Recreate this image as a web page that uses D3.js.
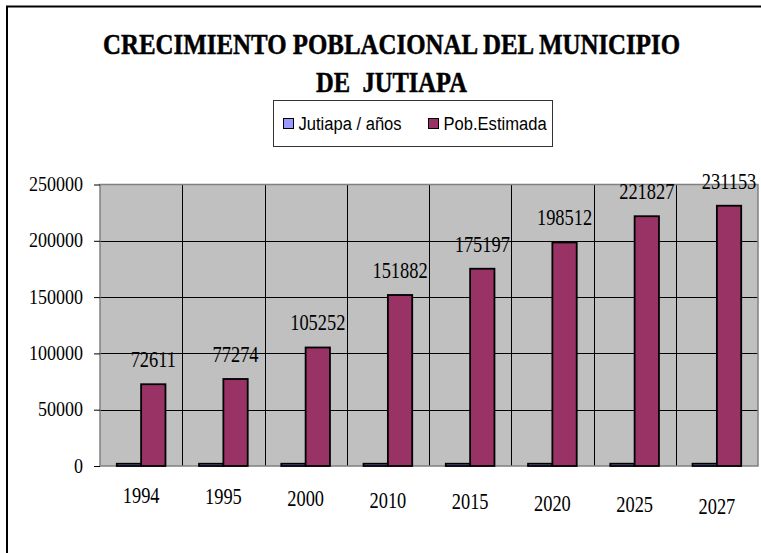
<!DOCTYPE html>
<html>
<head>
<meta charset="utf-8">
<script src="https://cdn.jsdelivr.net/npm/d3@7"></script>
<style>
  body { margin: 0; background: #fff; }
  svg { display: block; }
  text { font-family: "Liberation Serif", "Times New Roman", serif; fill: #000; }
  .legend text { font-family: "Liberation Sans", Arial, sans-serif; }
</style>
</head>
<body>
<div id="chart"></div>
<script>
// chart data
let years = ["1994", "1995", "2000", "2010", "2015", "2020", "2025", "2027"];
let jutiapaAnos = [1994, 1995, 2000, 2010, 2015, 2020, 2025, 2027];
let pobEstimada = [72611, 77274, 105252, 151882, 175197, 198512, 221827, 231153];
let seriesNames = ["Jutiapa / años", "Pob.Estimada"];
let seriesColors = ["#9999ff", "#993366"];
let yTicks = [0, 50000, 100000, 150000, 200000, 250000];

let titleLines = ["CRECIMIENTO POBLACIONAL DEL MUNICIPIO", "DE  JUTIAPA"];

let serif = '"Liberation Serif", "Times New Roman", serif';
let sans = '"Liberation Sans", Arial, sans-serif';

let width = 761, height = 553;

let svg = d3.select("#chart").append("svg")
  .attr("width", width)
  .attr("height", height);

// squeeze text horizontally, the original font looks condensed
function squish(sel, factor) {
  sel.each(function () {
    let len = this.getComputedTextLength();
    d3.select(this)
      .attr("textLength", len * factor)
      .attr("lengthAdjust", "spacingAndGlyphs");
  });
}

// outer frame (right and bottom edges fall off the picture)
svg.append("rect")
  .attr("x", 7)
  .attr("y", 6.5)
  .attr("width", 780)
  .attr("height", 560)
  .attr("fill", "none")
  .attr("stroke", "#000")
  .attr("stroke-width", 2);

// title
let titleY = [54, 92];
let titleLen = [577, 151];
svg.selectAll(".title")
  .data(titleLines)
  .enter().append("text")
  .attr("class", "title")
  .attr("x", 391.5)
  .attr("y", (d, i) => titleY[i])
  .attr("text-anchor", "middle")
  .style("font-family", serif)
  .style("font-size", "29px")
  .style("font-weight", "bold")
  .style("white-space", "pre")
  .attr("stroke", "#000")
  .attr("stroke-width", 0.5)
  .attr("textLength", (d, i) => titleLen[i])
  .attr("lengthAdjust", "spacingAndGlyphs")
  .text(d => d);

// legend
let legend = svg.append("g").attr("class", "legend");
legend.append("rect")
  .attr("x", 273.5)
  .attr("y", 100.5)
  .attr("width", 279)
  .attr("height", 46)
  .attr("fill", "#fff")
  .attr("stroke", "#333")
  .attr("stroke-width", 1);

let legendX = [283.5, 428.5];
let items = legend.selectAll(".item")
  .data(seriesNames)
  .enter().append("g")
  .attr("class", "item")
  .attr("transform", (d, i) => "translate(" + legendX[i] + ",118.5)");

items.append("rect")
  .attr("width", 10)
  .attr("height", 10)
  .attr("fill", (d, i) => seriesColors[i])
  .attr("stroke", "#000")
  .attr("stroke-width", 1);

items.append("text")
  .attr("x", 15)
  .attr("y", 11)
  .style("font-family", sans)
  .style("font-size", "18px")
  .text(d => d)
  .call(squish, 0.92);

// plot area
let plot = { left: 100, right: 758, top: 184.5, bottom: 466 };

let x0 = d3.scaleBand()
  .domain(years)
  .range([plot.left, plot.right])
  .padding(0);

let x1 = d3.scaleBand()
  .domain(seriesNames)
  .range([0, x0.bandwidth()])
  .paddingInner(0)
  .paddingOuter(0.69);

let y = d3.scaleLinear()
  .domain([0, 250000])
  .range([plot.bottom, plot.top]);

svg.append("rect")
  .attr("x", plot.left)
  .attr("y", plot.top)
  .attr("width", plot.right - plot.left)
  .attr("height", plot.bottom - plot.top)
  .attr("fill", "#c0c0c0");

// horizontal gridlines
svg.append("g")
  .selectAll("line")
  .data(yTicks.slice(1, -1))
  .enter().append("line")
  .attr("x1", plot.left)
  .attr("x2", plot.right)
  .attr("y1", d => Math.round(y(d)) + 0.5)
  .attr("y2", d => Math.round(y(d)) + 0.5)
  .attr("stroke", "#000")
  .attr("stroke-width", 1);

// vertical gridlines between categories
svg.append("g")
  .selectAll("line")
  .data(years.slice(1))
  .enter().append("line")
  .attr("x1", d => Math.round(x0(d)) + 0.5)
  .attr("x2", d => Math.round(x0(d)) + 0.5)
  .attr("y1", plot.top)
  .attr("y2", plot.bottom)
  .attr("stroke", "#000")
  .attr("stroke-width", 1);

// plot border
svg.append("rect")
  .attr("x", plot.left)
  .attr("y", plot.top)
  .attr("width", plot.right - plot.left)
  .attr("height", plot.bottom - plot.top)
  .attr("fill", "none")
  .attr("stroke", "#808080")
  .attr("stroke-width", 1.5);

// bars
let seriesValues = [jutiapaAnos, pobEstimada];
let barData = [];
years.forEach((yr, i) => {
  seriesNames.forEach((s, j) => {
    barData.push({ year: yr, series: s, idx: j, value: seriesValues[j][i] });
  });
});

svg.append("g")
  .selectAll("rect")
  .data(barData)
  .enter().append("rect")
  .attr("x", d => x0(d.year) + x1(d.series))
  .attr("y", d => y(d.value))
  .attr("width", x1.bandwidth())
  .attr("height", d => y(0) - y(d.value))
  .attr("fill", d => seriesColors[d.idx])
  .attr("stroke", "#000")
  .attr("stroke-width", 1.8);

// value labels on Pob.Estimada
svg.append("g")
  .selectAll("text")
  .data(barData.filter(d => d.idx === 1))
  .enter().append("text")
  .attr("x", d => x0(d.year) + x1(d.series) + x1.bandwidth() / 2)
  .attr("y", d => y(d.value) - 17)
  .attr("text-anchor", "middle")
  .style("font-family", serif)
  .style("font-size", "23px")
  .text(d => d.value)
  .call(squish, 0.8);

// y axis
let yAxis = d3.axisLeft(y)
  .tickValues(yTicks)
  .tickSize(6)
  .tickPadding(11)
  .tickFormat(d3.format("d"));

let yG = svg.append("g")
  .attr("transform", "translate(" + plot.left + ",0)")
  .call(yAxis);
yG.select(".domain").remove();
yG.selectAll(".tick line").attr("stroke", "#000");
yG.selectAll(".tick text")
  .style("font-family", serif)
  .style("font-size", "20px")
  .attr("dy", "0.3em")
  .call(squish, 0.9);

// x axis (labels only, they drift slightly down to the right like the original)
let xAxis = d3.axisBottom(x0).tickSize(0).tickPadding(0);
let xG = svg.append("g")
  .attr("transform", "translate(0," + plot.bottom + ")")
  .call(xAxis);
xG.select(".domain").remove();
xG.selectAll(".tick text")
  .style("font-family", serif)
  .style("font-size", "23px")
  .attr("y", (d, i) => 36.7 + i * 1.63)
  .attr("dy", 0)
  .call(squish, 0.8);
</script>
</body>
</html>
